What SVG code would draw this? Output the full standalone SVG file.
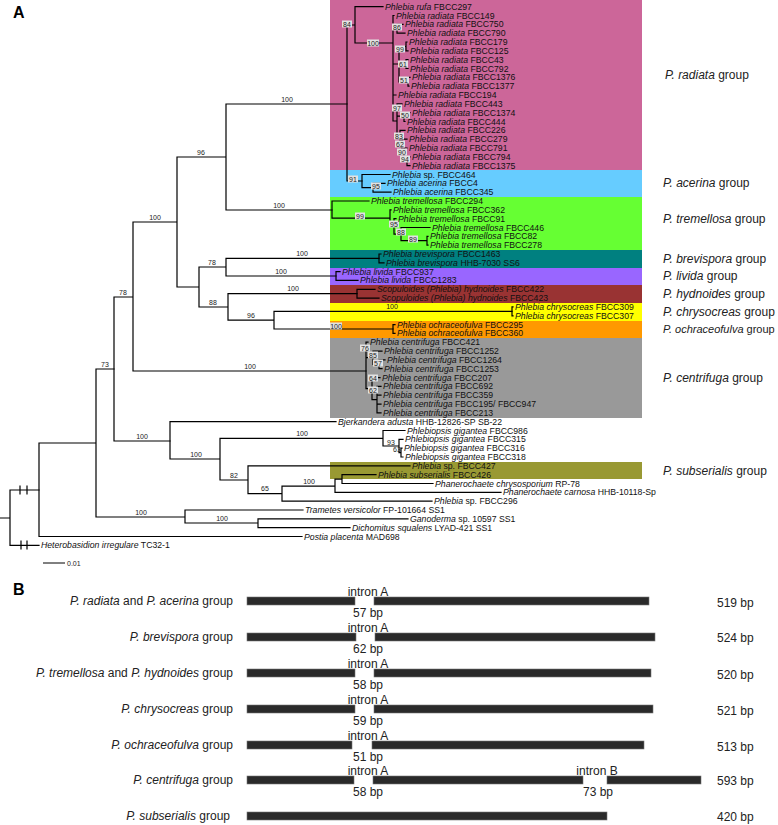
<svg xmlns="http://www.w3.org/2000/svg" width="778" height="825" viewBox="0 0 778 825">
<style>
text{font-family:"Liberation Sans",Arial,sans-serif}
.tx{font-size:8.7px;fill:#111}
.i{font-style:italic}
.bs{font-size:7px;fill:#222;text-anchor:middle}
.bg{fill:#e2e2e2}
.grp{font-size:12px;fill:#222}
.br{stroke:#000;stroke-width:1.2;fill:none;stroke-linecap:square}
.bar{fill:#2a2a2a;stroke:#777;stroke-width:0.6}
.lb{font-size:12px;fill:#222}
.mid{text-anchor:middle}
.end{text-anchor:end}
.pl{font-size:16px;font-weight:bold;fill:#000}
</style>

<g id="bands">
<rect x="330" y="0" width="312" height="170" fill="#cc6699"/>
<rect x="330" y="170" width="312" height="27" fill="#66ccff"/>
<rect x="330" y="197" width="312" height="53" fill="#66ff33"/>
<rect x="330" y="250" width="312" height="18" fill="#008080"/>
<rect x="330" y="268" width="312" height="17" fill="#9966ff"/>
<rect x="330" y="285" width="312" height="18" fill="#993333"/>
<rect x="330" y="303" width="312" height="18" fill="#ffff00"/>
<rect x="330" y="321" width="312" height="17" fill="#ff9900"/>
<rect x="330" y="338" width="312" height="80" fill="#999999"/>
<rect x="330" y="462" width="312" height="17" fill="#999933"/>
</g>

<text class="pl" x="13" y="18">A</text>

<g id="connectors" class="br">
<path d="M0,518 H10 M10,490 V545.3 M10,490 H39 M10,545.3 H39 M20,486 V494 M27,486 V494 M21,541 V549 M27,541 V549"/>
<path d="M39,443 V536.5 M39,536.5 H302 M39,443 H96 M96,369 V517 M96,517 H185 M185,510 V523 M185,510 H303 M185,523 H258 M258,518.9 V527.7 M258,518.9 H408 M258,527.7 H350 M96,369 H114"/>
<path d="M114,297 V441 M114,297 H133 M114,441 H170 M133,222 V371 M133,222 H177 M133,371 H366 M177,157 V287 M177,157 H226 M177,287 H199 M226,104 V210 M226,104 H347 M226,210 H332 M199,267 V307 M199,267 H226 M199,307 H228 M226,258.4 V276 M226,258.4 H379 M226,276 H336 M228,293.7 V320.2 M228,293.7 H357 M228,320.2 H274 M274,311.3 V329 M274,311.3 H512 M274,329 H393"/>
<path d="M379,254 V262.8 M379,254 H381 M379,262.8 H384 M336,271.6 V280.4 M336,271.6 H340 M336,280.4 H358 M357,289.3 V298.1 M357,289.3 H375 M357,298.1 H379 M512,306.9 V315.8 M512,306.9 H513 M512,315.8 H513 M393,324.6 V333.4 M393,324.6 H395 M393,333.4 H395"/>
<path d="M347,25 V181 M347,25 H355 M347,181 H362 M355,6.7 V43 M355,6.7 H383 M355,43 H393 M393,15.5 V121 M393,15.5 H394 M393,28.8 H397 M393,64 H399 M393,95 H396 M393,121 H397 M397,24.4 V33.2 M397,24.4 H403 M397,33.2 H405 M399,46.5 V81.8 M399,46.5 H406 M399,64.1 H406 M399,81.8 H408 M406,42 V50.9 M406,42 H407 M406,50.9 H408 M406,59.7 V68.5 M406,59.7 H408 M406,68.5 H408 M408,77.3 V86.2 M408,77.3 H410 M408,86.2 H409 M397,103.8 V138.6 M397,103.8 H402 M397,116.1 H404 M397,138.6 H400 M404,112.7 V121.5 M404,112.7 H410 M404,121.5 H405 M400,130.3 V146.9 M400,130.3 H405 M400,146.9 H402 M402,139.2 V154.6 M402,139.2 H407 M402,154.6 H404 M404,148 V161.2 M404,148 H407 M404,161.2 H407 M407,156.8 V165.6 M407,156.8 H410 M407,165.6 H410"/>
<path d="M362,174.5 V187.7 M362,174.5 H390 M362,187.7 H373 M373,183.3 V192.1 M373,183.3 H385 M373,192.1 H391"/>
<path d="M332,201 V218.1 M332,201 H369 M332,218.1 H390 M390,209.8 V226.4 M390,209.8 H391 M390,226.4 H394 M394,218.6 V234.1 M394,218.6 H396 M394,234.1 H401 M401,227.5 V240.7 M401,227.5 H430 M401,240.7 H427 M427,236.3 V245.1 M427,236.3 H428 M427,245.1 H428"/>
<path d="M366,342.2 V388.6 M366,342.2 H368 M366,357.7 H373 M366,388.6 H372 M373,351.1 V364.3 M373,351.1 H382 M373,364.3 H379 M379,359.9 V368.7 M379,359.9 H385 M379,368.7 H382 M372,377.6 V399.7 M372,377.6 H380 M372,399.7 H377 M377,386.4 V412.9 M377,386.4 H381 M377,395.2 H381 M377,404.1 H381 M377,412.9 H381"/>
<path d="M170,421.7 V459 M170,421.7 H336 M170,459 H220 M220,438.3 V480 M220,438.3 H383 M220,480 H248 M383,430.5 V446 M383,430.5 H405 M383,446 H399 M399,439.4 V452.6 M399,439.4 H403 M399,452.6 H401 M401,448.2 V457 M401,448.2 H402 M401,457 H403 M248,465.9 V493.7 M248,465.9 H410 M248,493.7 H282 M282,486.1 V501.2 M282,486.1 H335 M282,501.2 H432 M335,479.1 V492.4 M335,479.1 H342 M335,492.4 H501 M342,474.7 V483.5 M342,474.7 H376 M342,483.5 H433"/>
</g>

<g id="support">
<text class="bs" x="287" y="102">100</text>
<text class="bs" x="201" y="155">96</text>
<text class="bs" x="279" y="208">100</text>
<text class="bs" x="155" y="220">100</text>
<text class="bs" x="212" y="265">78</text>
<text class="bs" x="302" y="256">100</text>
<text class="bs" x="281" y="274">100</text>
<text class="bs" x="213" y="305">88</text>
<text class="bs" x="293" y="291">100</text>
<text class="bs" x="251" y="318">96</text>
<text class="bs" x="392" y="309">100</text>
<text class="bs" x="123" y="295">78</text>
<text class="bs" x="105" y="367">73</text>
<text class="bs" x="250" y="369">100</text>
<text class="bs" x="142" y="439">100</text>
<text class="bs" x="196" y="457">100</text>
<text class="bs" x="302" y="436">100</text>
<text class="bs" x="234" y="478">82</text>
<text class="bs" x="265" y="491">65</text>
<text class="bs" x="309" y="484">100</text>
<text class="bs" x="141" y="515">100</text>
<text class="bs" x="222" y="521">100</text>
<text class="bs" x="391" y="445">93</text>
<text class="bs" x="397" y="452">63</text>
<g class="bg">
<rect x="342" y="20.5" width="10" height="7"/>
<rect x="367" y="39.5" width="12" height="7"/>
<rect x="392" y="23.5" width="10" height="7"/>
<rect x="395" y="45.5" width="10" height="7"/>
<rect x="398" y="60.5" width="10" height="7"/>
<rect x="399" y="76.5" width="10" height="7"/>
<rect x="392" y="104.5" width="10" height="7"/>
<rect x="400" y="111.5" width="10" height="7"/>
<rect x="394" y="132.5" width="10" height="7"/>
<rect x="395" y="140.5" width="10" height="7"/>
<rect x="397" y="148.5" width="10" height="7"/>
<rect x="400" y="155.5" width="10" height="7"/>
<rect x="348" y="175.5" width="10" height="7"/>
<rect x="371" y="182.5" width="10" height="7"/>
<rect x="355" y="212.5" width="10" height="7"/>
<rect x="389" y="220.5" width="10" height="7"/>
<rect x="396" y="228.5" width="10" height="7"/>
<rect x="408" y="235.5" width="10" height="7"/>
<rect x="330" y="322.5" width="12" height="7"/>
<rect x="360" y="344.5" width="10" height="7"/>
<rect x="368" y="351.5" width="10" height="7"/>
<rect x="373" y="359.5" width="10" height="7"/>
<rect x="368" y="374.5" width="10" height="7"/>
<rect x="368" y="386.5" width="10" height="7"/>
</g>
<text class="bs" x="347" y="26.5">84</text>
<text class="bs" x="373" y="45.5">100</text>
<text class="bs" x="397" y="29.5">86</text>
<text class="bs" x="400" y="51.5">99</text>
<text class="bs" x="403" y="66.5">61</text>
<text class="bs" x="404" y="82.5">51</text>
<text class="bs" x="397" y="110.5">97</text>
<text class="bs" x="405" y="117.5">50</text>
<text class="bs" x="399" y="138.5">83</text>
<text class="bs" x="400" y="146.5">62</text>
<text class="bs" x="402" y="154.5">90</text>
<text class="bs" x="405" y="161.5">94</text>
<text class="bs" x="353" y="181.5">91</text>
<text class="bs" x="376" y="188.5">95</text>
<text class="bs" x="360" y="218.5">99</text>
<text class="bs" x="394" y="226.5">95</text>
<text class="bs" x="401" y="234.5">88</text>
<text class="bs" x="413" y="241.5">89</text>
<text class="bs" x="336" y="328.5">100</text>
<text class="bs" x="365" y="350.5">76</text>
<text class="bs" x="373" y="357.5">85</text>
<text class="bs" x="378" y="365.5">57</text>
<text class="bs" x="373" y="380.5">64</text>
<text class="bs" x="373" y="392.5">62</text>
</g>

<g id="taxa" class="tx">
<g id="t00"><text x="385" y="9.7"><tspan class="i">Phlebia rufa</tspan> FBCC297</text></g>
<g id="t01"><text x="396" y="18.5"><tspan class="i">Phlebia radiata</tspan> FBCC149</text></g>
<g id="t02"><text x="405" y="27.4"><tspan class="i">Phlebia radiata</tspan> FBCC750</text></g>
<g id="t03"><text x="407" y="36.2"><tspan class="i">Phlebia radiata</tspan> FBCC790</text></g>
<g id="t04"><text x="409" y="45"><tspan class="i">Phlebia radiata</tspan> FBCC179</text></g>
<g id="t05"><text x="410" y="53.9"><tspan class="i">Phlebia radiata</tspan> FBCC125</text></g>
<g id="t06"><text x="410" y="62.7"><tspan class="i">Phlebia radiata</tspan> FBCC43</text></g>
<g id="t07"><text x="410" y="71.5"><tspan class="i">Phlebia radiata</tspan> FBCC792</text></g>
<g id="t08"><text x="412" y="80.3"><tspan class="i">Phlebia radiata</tspan> FBCC1376</text></g>
<g id="t09"><text x="411" y="89.2"><tspan class="i">Phlebia radiata</tspan> FBCC1377</text></g>
<g id="t10"><text x="398" y="98"><tspan class="i">Phlebia radiata</tspan> FBCC194</text></g>
<g id="t11"><text x="404" y="106.8"><tspan class="i">Phlebia radiata</tspan> FBCC443</text></g>
<g id="t12"><text x="412" y="115.7"><tspan class="i">Phlebia radiata</tspan> FBCC1374</text></g>
<g id="t13"><text x="407" y="124.5"><tspan class="i">Phlebia radiata</tspan> FBCC444</text></g>
<g id="t14"><text x="407" y="133.3"><tspan class="i">Phlebia radiata</tspan> FBCC226</text></g>
<g id="t15"><text x="409" y="142.2"><tspan class="i">Phlebia radiata</tspan> FBCC279</text></g>
<g id="t16"><text x="409" y="151"><tspan class="i">Phlebia radiata</tspan> FBCC791</text></g>
<g id="t17"><text x="412" y="159.8"><tspan class="i">Phlebia radiata</tspan> FBCC794</text></g>
<g id="t18"><text x="412" y="168.6"><tspan class="i">Phlebia radiata</tspan> FBCC1375</text></g>
<g id="t19"><text x="392" y="177.5"><tspan class="i">Phlebia</tspan> sp. FBCC464</text></g>
<g id="t20"><text x="387" y="186.3"><tspan class="i">Phlebia acerina</tspan> FBCC4</text></g>
<g id="t21"><text x="393" y="195.1"><tspan class="i">Phlebia acerina</tspan> FBCC345</text></g>
<g id="t22"><text x="371" y="204"><tspan class="i">Phlebia tremellosa</tspan> FBCC294</text></g>
<g id="t23"><text x="393" y="212.8"><tspan class="i">Phlebia tremellosa</tspan> FBCC362</text></g>
<g id="t24"><text x="398" y="221.6"><tspan class="i">Phlebia tremellosa</tspan> FBCC91</text></g>
<g id="t25"><text x="432" y="230.5"><tspan class="i">Phlebia tremellosa</tspan> FBCC446</text></g>
<g id="t26"><text x="430" y="239.3"><tspan class="i">Phlebia tremellosa</tspan> FBCC82</text></g>
<g id="t27"><text x="430" y="248.1"><tspan class="i">Phlebia tremellosa</tspan> FBCC278</text></g>
<g id="t28"><text x="383" y="257"><tspan class="i">Phlebia brevispora</tspan> FBCC1463</text></g>
<g id="t29"><text x="386" y="265.8"><tspan class="i">Phlebia brevispora</tspan> HHB-7030 SS6</text></g>
<g id="t30"><text x="342" y="274.6"><tspan class="i">Phlebia livida</tspan> FBCC937</text></g>
<g id="t31"><text x="360" y="283.4"><tspan class="i">Phlebia livida</tspan> FBCC1283</text></g>
<g id="t32"><text x="377" y="292.3"><tspan class="i">Scopuloides (Phlebia) hydnoides</tspan> FBCC422</text></g>
<g id="t33"><text x="381" y="301.1"><tspan class="i">Scopuloides (Phlebia) hydnoides</tspan> FBCC423</text></g>
<g id="t34"><text x="515" y="309.9"><tspan class="i">Phlebia chrysocreas</tspan> FBCC309</text></g>
<g id="t35"><text x="515" y="318.8"><tspan class="i">Phlebia chrysocreas</tspan> FBCC307</text></g>
<g id="t36"><text x="397" y="327.6"><tspan class="i">Phlebia ochraceofulva</tspan> FBCC295</text></g>
<g id="t37"><text x="397" y="336.4"><tspan class="i">Phlebia ochraceofulva</tspan> FBCC360</text></g>
<g id="t38"><text x="370" y="345.2"><tspan class="i">Phlebia centrifuga</tspan> FBCC421</text></g>
<g id="t39"><text x="384" y="354.1"><tspan class="i">Phlebia centrifuga</tspan> FBCC1252</text></g>
<g id="t40"><text x="387" y="362.9"><tspan class="i">Phlebia centrifuga</tspan> FBCC1264</text></g>
<g id="t41"><text x="384" y="371.7"><tspan class="i">Phlebia centrifuga</tspan> FBCC1253</text></g>
<g id="t42"><text x="382" y="380.6"><tspan class="i">Phlebia centrifuga</tspan> FBCC207</text></g>
<g id="t43"><text x="383" y="389.4"><tspan class="i">Phlebia centrifuga</tspan> FBCC692</text></g>
<g id="t44"><text x="383" y="398.2"><tspan class="i">Phlebia centrifuga</tspan> FBCC359</text></g>
<g id="t45"><text x="383" y="407.1"><tspan class="i">Phlebia centrifuga</tspan> FBCC195/ FBCC947</text></g>
<g id="t46"><text x="383" y="415.9"><tspan class="i">Phlebia centrifuga</tspan> FBCC213</text></g>
<g id="t47"><text x="338" y="424.7"><tspan class="i">Bjerkandera adusta</tspan> HHB-12826-SP SB-22</text></g>
<g id="t48"><text x="407" y="433.5"><tspan class="i">Phlebiopsis gigantea</tspan> FBCC986</text></g>
<g id="t49"><text x="405" y="442.4"><tspan class="i">Phlebiopsis gigantea</tspan> FBCC315</text></g>
<g id="t50"><text x="404" y="451.2"><tspan class="i">Phlebiopsis gigantea</tspan> FBCC316</text></g>
<g id="t51"><text x="405" y="460"><tspan class="i">Phlebiopsis gigantea</tspan> FBCC318</text></g>
<g id="t52"><text x="412" y="468.9"><tspan class="i">Phlebia</tspan> sp. FBCC427</text></g>
<g id="t53"><text x="378" y="477.7"><tspan class="i">Phlebia subserialis</tspan> FBCC426</text></g>
<g id="t54"><text x="435" y="486.5"><tspan class="i">Phanerochaete chrysosporium</tspan> RP-78</text></g>
<g id="t55"><text x="503" y="495.4"><tspan class="i">Phanerochaete carnosa</tspan> HHB-10118-Sp</text></g>
<g id="t56"><text x="434" y="504.2"><tspan class="i">Phlebia</tspan> sp. FBCC296</text></g>
<g id="t57"><text x="305" y="513"><tspan class="i">Trametes versicolor</tspan> FP-101664 SS1</text></g>
<g id="t58"><text x="410" y="521.9"><tspan class="i">Ganoderma</tspan> sp. 10597 SS1</text></g>
<g id="t59"><text x="352" y="530.7"><tspan class="i">Dichomitus squalens</tspan> LYAD-421 SS1</text></g>
<g id="t60"><text x="304" y="539.5"><tspan class="i">Postia placenta</tspan> MAD698</text></g>
<g id="t61"><text x="41" y="548.3"><tspan class="i">Heterobasidion irregulare</tspan> TC32-1</text></g>
</g>

<g id="groups" class="grp">
<text x="665" y="79"><tspan class="i">P. radiata</tspan> group</text>
<text x="663" y="187"><tspan class="i">P. acerina</tspan> group</text>
<text x="663" y="223"><tspan class="i">P. tremellosa</tspan> group</text>
<text x="663" y="263"><tspan class="i">P. brevispora</tspan> group</text>
<text x="663" y="280"><tspan class="i">P. livida</tspan> group</text>
<text x="663" y="298"><tspan class="i">P. hydnoides</tspan> group</text>
<text x="663" y="316"><tspan class="i">P. chrysocreas</tspan> group</text>
<text x="663" y="333" font-size="11px"><tspan class="i">P. ochraceofulva</tspan> group</text>
<text x="663" y="382"><tspan class="i">P. centrifuga</tspan> group</text>
<text x="663" y="475"><tspan class="i">P. subserialis</tspan> group</text>
</g>

<g id="scale">
<line x1="43" y1="563" x2="65" y2="563" stroke="#000" stroke-width="1"/>
<text x="67" y="566" font-size="7" fill="#222">0.01</text>
</g>

<text class="pl" x="13" y="595">B</text>

<g id="partB">
<g id="row1">
<text class="lb end" x="233" y="605"><tspan class="i">P. radiata</tspan> and <tspan class="i">P. acerina</tspan> group</text>
<rect class="bar" x="247" y="597" width="108" height="8"/>
<rect class="bar" x="374" y="597" width="275" height="8"/>
<text class="lb mid" x="368" y="596">intron A</text>
<text class="lb mid" x="368" y="617">57 bp</text>
<text class="lb" x="717" y="607">519 bp</text>
</g>
<g id="row2">
<text class="lb end" x="233" y="641"><tspan class="i">P. brevispora</tspan> group</text>
<rect class="bar" x="247" y="633" width="109" height="8"/>
<rect class="bar" x="375" y="633" width="280" height="8"/>
<text class="lb mid" x="368" y="632">intron A</text>
<text class="lb mid" x="368" y="653">62 bp</text>
<text class="lb" x="717" y="642">524 bp</text>
</g>
<g id="row3">
<text class="lb end" x="233" y="677"><tspan class="i">P. tremellosa</tspan> and <tspan class="i">P. hydnoides</tspan> group</text>
<rect class="bar" x="247" y="669" width="108" height="8"/>
<rect class="bar" x="374" y="669" width="277" height="8"/>
<text class="lb mid" x="368" y="668">intron A</text>
<text class="lb mid" x="368" y="689">58 bp</text>
<text class="lb" x="717" y="679">520 bp</text>
</g>
<g id="row4">
<text class="lb end" x="233" y="713"><tspan class="i">P. chrysocreas</tspan> group</text>
<rect class="bar" x="247" y="705" width="108" height="8"/>
<rect class="bar" x="374" y="705" width="279" height="8"/>
<text class="lb mid" x="368" y="704">intron A</text>
<text class="lb mid" x="368" y="725">59 bp</text>
<text class="lb" x="717" y="715">521 bp</text>
</g>
<g id="row5">
<text class="lb end" x="233" y="749"><tspan class="i">P. ochraceofulva</tspan> group</text>
<rect class="bar" x="247" y="741" width="105" height="8"/>
<rect class="bar" x="372" y="741" width="272" height="8"/>
<text class="lb mid" x="368" y="740">intron A</text>
<text class="lb mid" x="368" y="761">51 bp</text>
<text class="lb" x="717" y="751">513 bp</text>
</g>
<g id="row6">
<text class="lb end" x="233" y="784"><tspan class="i">P. centrifuga</tspan> group</text>
<rect class="bar" x="247" y="776" width="107" height="8"/>
<rect class="bar" x="373" y="776" width="210" height="8"/>
<rect class="bar" x="607" y="776" width="94" height="8"/>
<text class="lb mid" x="368" y="775">intron A</text>
<text class="lb mid" x="368" y="796">58 bp</text>
<text class="lb mid" x="597" y="775">intron B</text>
<text class="lb mid" x="598" y="796">73 bp</text>
<text class="lb" x="717" y="785">593 bp</text>
</g>
<g id="row7">
<text class="lb end" x="230" y="820"><tspan class="i">P. subserialis</tspan> group</text>
<rect class="bar" x="247" y="812" width="360" height="8"/>
<text class="lb" x="717" y="821">420 bp</text>
</g>
</g>
</svg>
